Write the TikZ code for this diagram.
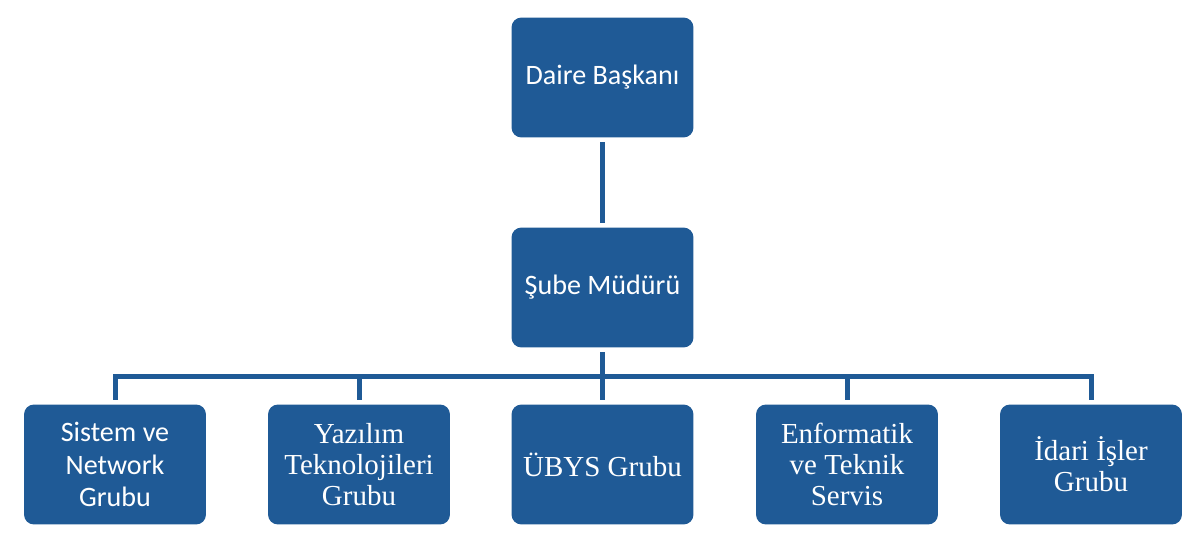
\documentclass[tikz,border=0pt]{standalone}
\usepackage{fontspec}
\setmainfont{Liberation Serif}
\newfontfamily\kutusans{Carlito}
\definecolor{koyumavi}{HTML}{1F5A96}
\tikzset{
  kutu/.style={fill=koyumavi, rounded corners=0.2cm, minimum width=3.64cm,
    minimum height=2.4cm, text=white, align=center, inner sep=2pt, outer sep=0.1cm},
  sanskutu/.style={kutu, font=\kutusans\fontsize{16}{18.5}\selectfont},
  serifkutu/.style={kutu, font=\fontsize{16.5}{17.5}\selectfont},
  hat/.style={draw=koyumavi, line width=0.1cm, line join=miter}
}
\begin{document}
\begin{tikzpicture}[x=0.02cm, y=-0.02cm]
  \useasboundingbox (0,0) rectangle (1182,553);
  \node[sanskutu] (daire) at (602.5,77.5) {Daire Başkanı};
  \node[sanskutu] (sube) at (602.5,287.5) {Şube Müdürü};
  \node[sanskutu] (sistem) at (115,464.5) {Sistem ve\\Network\\Grubu};
  \node[serifkutu] (yazilim) at (359,464.5) {Yazılım\\Teknolojileri\\Grubu};
  \node[serifkutu] (ubys) at (602.5,464.5) {ÜBYS Grubu};
  \node[serifkutu] (enformatik) at (847,464.5) {Enformatik\\ve Teknik\\Servis};
  \node[serifkutu] (idari) at (1091,464.5) {İdari İşler\\Grubu};
  % baglantilar
  \coordinate (bus) at (0,377);
  \draw[hat] (daire) -- (sube);
  \draw[hat] (sube) -- (ubys);
  \draw[hat] (sistem.north) -- (sistem.north |- bus) -- (idari.north |- bus) -- (idari.north);
  \foreach \k in {yazilim,enformatik}
    \draw[hat] (\k.north |- bus) -- (\k.north);
\end{tikzpicture}
\end{document}
